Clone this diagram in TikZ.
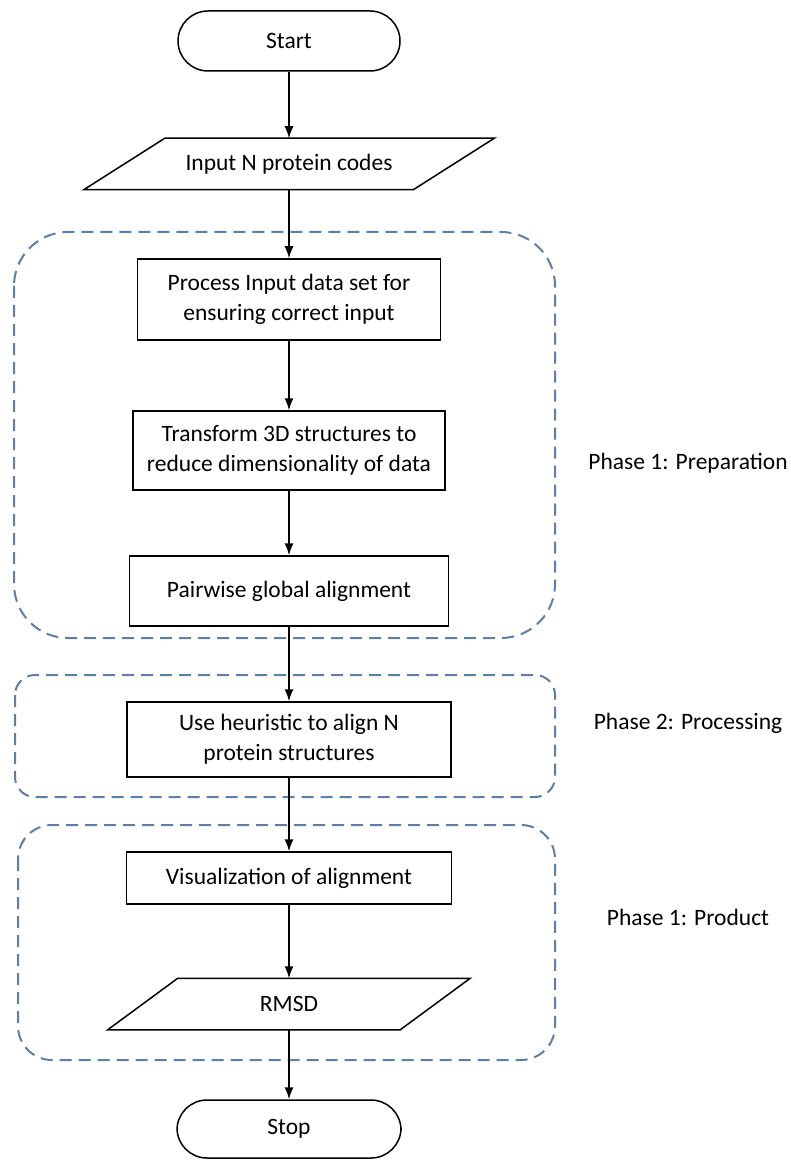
\documentclass[tikz,border=0pt]{standalone}
\usepackage{fontspec}
\setmainfont{Carlito}
\usepackage{xcolor}
\definecolor{phasecolor}{HTML}{5b7fa6}
\usepackage{tikz}
\usetikzlibrary{%
        calc,
        math,
        arrows.meta, % 箭头样式
    }

\begin{document}
\begin{tikzpicture}[x=0.5pt, y=-0.5pt, line width=0.75pt]
    \tikzmath{%
        % 中心线
        \xc=289;
        % 标签位置
        \xlabel=688;
    };

    \tikzset{%
        every node/.style={font=\fontsize{11.75}{15}\selectfont},
        terminal/.style={draw, rounded corners=15pt, minimum width=111pt, minimum height=30pt},
        process/.style={draw, align=center, minimum height=38pt, inner sep=2pt},
        io/.style={minimum height=25pt, inner sep=2pt},
        phase/.style={draw=phasecolor, line width=1pt, dash pattern=on 6pt off 3.5pt},
        arr/.style={-{Latex[length=6pt, width=4.5pt]}},
    }

    \useasboundingbox (0, 0) rectangle (791, 1160);

    % 虚线框
    \draw [phase, rounded corners=27pt] (14, 232) rectangle (555, 638);
    \draw [phase, rounded corners=10pt] (15, 675) rectangle (555, 797);
    \draw [phase, rounded corners=17pt] (18, 825) rectangle (555, 1060);

    % 流程节点
    \node (start) [terminal] at (\xc, 41) {Start};
    \node (input) [io, minimum width=204.5pt] at (\xc, 164) {Input N protein codes};
    \node (prepare) [process, minimum width=151.5pt, minimum height=40.5pt] at (\xc, 299.5) {Process Input data set for\\ensuring correct input};
    \node (transform) [process, minimum width=156pt, minimum height=39.5pt] at (\xc, 450.5) {Transform 3D structures to\\reduce dimensionality of data};
    \node (pairwise) [process, minimum width=159.5pt, minimum height=35pt] at (\xc, 591) {Pairwise global alignment};
    \node (heuristic) [process, minimum width=162pt, minimum height=37.5pt] at (\xc, 739.5) {Use heuristic to align N\\protein structures};
    \node (visual) [process, minimum width=162.5pt, minimum height=26pt] at (\xc, 878) {Visualization of alignment};
    \node (rmsd) [io, minimum width=180.5pt] at (\xc, 1004) {RMSD};
    \node (stop) [terminal, minimum width=112pt, minimum height=29pt] at (\xc, 1129) {Stop};

    % 平行四边形
    \foreach \n/\s in {input/81, rmsd/70} {%
            \draw ($ (\n.north west) + (\s, 0) $) -- (\n.north east) -- ($ (\n.south east) + (-\s, 0) $) -- (\n.south west) -- cycle;
        }

    % 连线
    \draw [arr] (start) -- (input);
    \draw [arr] (input) -- (prepare);
    \draw [arr] (prepare) -- (transform);
    \draw [arr] (transform) -- (pairwise);
    \draw [arr] (pairwise) -- (heuristic);
    \draw [arr] (heuristic) -- (visual);
    \draw [arr] (visual) -- (rmsd);
    \draw [arr] (rmsd) -- (stop);

    % 右侧标签
    \node (prepLabel) at (\xlabel, 463) {Phase 1: Preparation};
    \node (procLabel) at (\xlabel, 723) {Phase 2: Processing};
    \node (prodLabel) at (\xlabel, 917) {Phase 1: Product};
\end{tikzpicture}
\end{document}
